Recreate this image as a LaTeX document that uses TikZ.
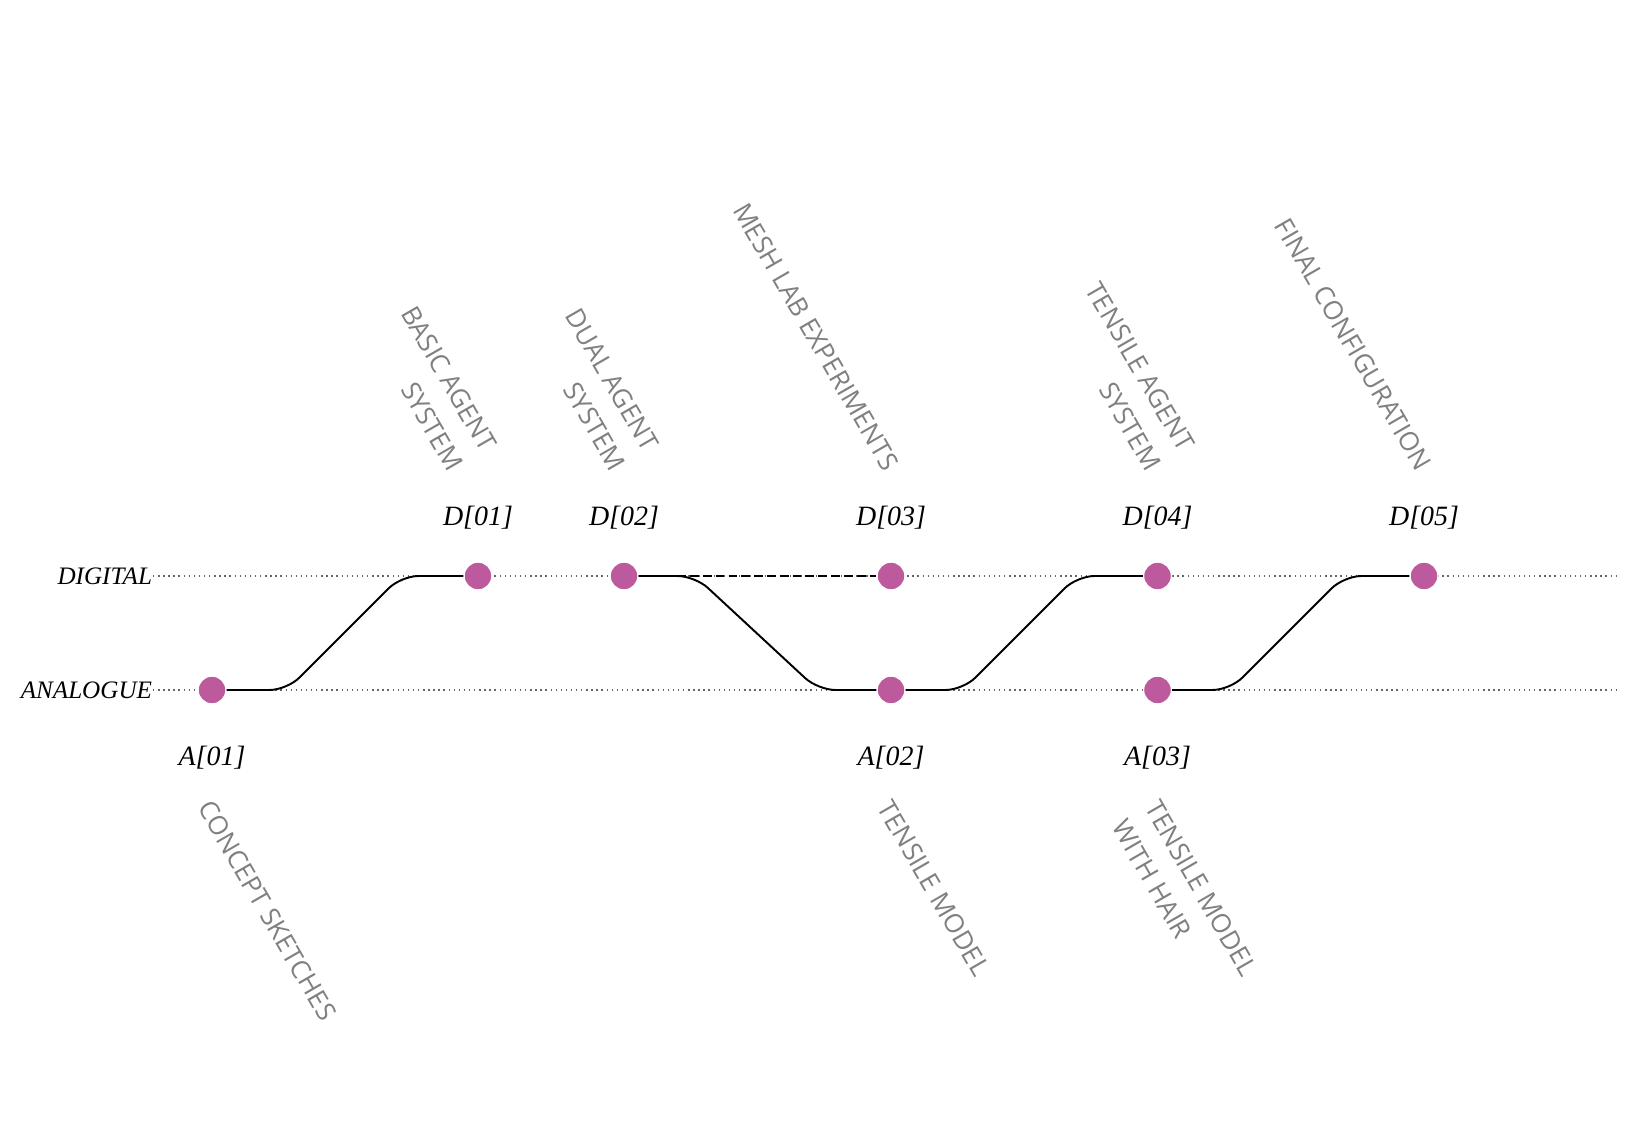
\documentclass[tikz,border=0pt]{standalone}
\usepackage{fontspec}
\setmainfont{Liberation Serif}
\newfontfamily\notefont{Open Sans}
\definecolor{stagepink}{RGB}{189,90,157}
\definecolor{notegray}{RGB}{128,128,128}
\tikzset{
every picture/.style={
line width=1.1pt
}}

\begin{document}
\begin{tikzpicture}[
dot/.style = {circle, fill=stagepink, draw=white, line width=0.8pt, minimum size=5.6mm, inner sep=0pt},
track/.style = {black!60, line width=0.8pt, dash pattern=on 0.8pt off 2.1pt},
link/.style = {black, line width=1.1pt, rounded corners=3.5mm},
tag/.style = {font=\fontsize{15.9}{18}\selectfont\itshape, inner sep=0pt},
rowname/.style = {font=\fontsize{14.3}{16}\selectfont\itshape, inner sep=0pt, anchor=east},
note/.style = {font=\notefont\fontsize{14.9}{21.8}\selectfont, text=notegray, inner sep=0pt, rotate=-60}]

\useasboundingbox (0,0) rectangle (32.68,22.4);

% the two rows
\node[rowname] (digital) at (3.06,10.88) {DIGITAL};
\node[rowname] (analogue) at (3.06,8.6) {ANALOGUE};
\coordinate (dend) at (32.38,10.88);
\coordinate (aend) at (32.38,8.6);
\draw[track] (digital) -- (dend);
\draw[track] (analogue) -- (aend);

% stages
\node[dot] (a1) at (4.24,8.6) {};
\node[dot] (d1) at (9.56,10.88) {};
\node[dot] (d2) at (12.48,10.88) {};
\node[dot] (d3) at (17.82,10.88) {};
\node[dot] (a2) at (17.82,8.6) {};
\node[dot] (d4) at (23.15,10.88) {};
\node[dot] (a3) at (23.15,8.6) {};
\node[dot] (d5) at (28.48,10.88) {};

\node[tag] (d1tag) at (9.56,12.04) {D[01]};
\node[tag] (d2tag) at (12.48,12.04) {D[02]};
\node[tag] (d3tag) at (17.82,12.04) {D[03]};
\node[tag] (d4tag) at (23.15,12.04) {D[04]};
\node[tag] (d5tag) at (28.48,12.04) {D[05]};
\node[tag] (a1tag) at (4.24,7.25) {A[01]};
\node[tag] (a2tag) at (17.82,7.25) {A[02]};
\node[tag] (a3tag) at (23.15,7.25) {A[03]};

% notes
\node[note, anchor=south east, align=right] (d1note) at (8.95,12.92) {BASIC AGENT\\SYSTEM};
\node[note, anchor=south east, align=right] (d2note) at (12.2,12.92) {DUAL AGENT\\SYSTEM};
\node[note, anchor=south east] (d3note) at (17.66,12.92) {MESH LAB EXPERIMENTS};
\node[note, anchor=south east, align=right] (d4note) at (22.91,12.92) {TENSILE AGENT\\SYSTEM};
\node[note, anchor=south east] (d5note) at (28.32,12.92) {FINAL CONFIGURATION};
\node[note, anchor=north west] (a1note) at (4.28,6.46) {CONCEPT SKETCHES};
\node[note, anchor=north west] (a2note) at (17.87,6.46) {TENSILE MODEL};
\node[note, anchor=north west, align=left] (a3note) at (23.22,6.46) {TENSILE MODEL\\WITH HAIR};

% paths between stages
\draw[link] (a1) -- (5.74,8.6) -- (8.02,10.88) -- (d1);
\draw[link] (d2) -- (13.9,10.88) -- (16.36,8.6) -- (a2);
\draw[black, line width=1.1pt, dash pattern=on 5pt off 2.3pt] (d2) -- (d3);
\draw[link] (a2) -- (19.26,8.6) -- (21.54,10.88) -- (d4);
\draw[link] (a3) -- (24.6,8.6) -- (26.88,10.88) -- (d5);
\end{tikzpicture}
\end{document}
